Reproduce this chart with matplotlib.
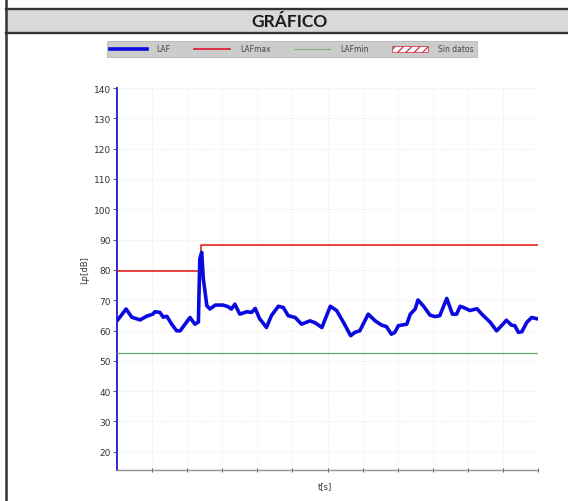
import matplotlib
matplotlib.use("Agg")
import matplotlib.pyplot as plt
from matplotlib.lines import Line2D
from matplotlib.patches import Patch, Rectangle

# ---- data -------------------------------------------------------------
t_laf = [0.0, 1.3, 2.1, 3.3, 4.2, 5.1, 5.4, 6.1, 6.6, 7.1, 7.8, 8.5, 9.0,
         9.7, 10.4, 11.1, 11.6, 11.8, 12.07, 12.3, 12.5, 12.8, 13.25, 14.0,
         15.1, 15.8, 16.3, 16.8, 17.5, 18.5, 19.2, 19.7, 20.3, 21.3, 22.0,
         23.0, 23.7, 24.4, 25.4, 26.3, 27.5, 28.2, 29.2, 30.4, 31.3, 32.3,
         33.3, 33.9, 34.6, 35.8, 36.8, 37.7, 38.4, 39.1, 39.6, 40.1, 41.3,
         41.8, 42.5, 42.9, 43.7, 44.6, 45.3, 46.0, 47.0, 47.8, 48.4, 48.9,
         49.6, 50.3, 51.3, 52.0, 53.2, 54.1, 54.8, 55.5, 56.2, 56.7, 57.2,
         57.7, 58.4, 59.1, 60.0]
laf = [63.2, 67.1, 64.4, 63.5, 64.7, 65.4, 66.2, 66.0, 64.4, 64.7, 62.1,
       59.9, 59.9, 62.1, 64.3, 62.1, 62.8, 83.6, 85.8, 77.0, 73.7, 68.2,
       67.1, 68.4, 68.4, 67.9, 67.1, 68.7, 65.4, 66.2, 66.0, 67.3, 64.0,
       61.0, 64.9, 68.0, 67.6, 64.9, 64.3, 62.1, 63.2, 62.6, 61.0, 68.0,
       66.6, 62.6, 58.3, 59.4, 59.9, 65.4, 63.2, 61.8, 61.3, 58.8, 59.4,
       61.6, 62.1, 65.4, 67.1, 70.1, 68.0, 65.1, 64.6, 64.9, 70.6, 65.4,
       65.4, 68.0, 67.4, 66.6, 67.2, 65.4, 62.7, 59.9, 61.6, 63.4, 61.8,
       61.6, 59.4, 59.6, 62.7, 64.3, 63.8]

t_max = [0.0, 12.0, 12.0, 60.0]
lafmax = [79.6, 79.6, 88.3, 88.3]

t_min = [0.0, 60.0]
lafmin = [52.7, 52.7]

y_ticks = list(range(20, 141, 10))
x_ticks = list(range(5, 61, 5))
legend_labels = ["LAF", "LAFmax", "LAFmin", "Sin datos"]

# ---- figure -----------------------------------------------------------
W, H = 568, 502
fig = plt.figure(figsize=(W / 100, H / 100), dpi=100)
fig.patch.set_facecolor("white")

# form frame: header band with title
fig.patches.append(Rectangle((6 / W, 1 - 34 / H), 1 - 6 / W, 24 / H,
                             transform=fig.transFigure, facecolor="#d9d9d9",
                             edgecolor="none", zorder=0))
for yy in (10, 34):
    fig.add_artist(Line2D([6 / W, 1], [1 - yy / H] * 2, transform=fig.transFigure,
                          color="#333333", lw=1.7))
fig.add_artist(Line2D([6 / W] * 2, [0, 1], transform=fig.transFigure,
                      color="#333333", lw=1.8))
fig.text(289 / W, 1 - 22 / H, "GRÁFICO", ha="center", va="center",
         fontsize=12.5, fontweight="bold", family="Lato", color="#1a1a1a")

# ---- axes -------------------------------------------------------------
ax = fig.add_axes([117 / W, 31 / H, (538 - 117) / W, (471 - 89) / H])
ax.plot(t_min, lafmin, color="#6aa86a", lw=0.9, zorder=3)
ax.plot(t_max, lafmax, color="#e01010", lw=1.1, zorder=3)
ax.plot(t_laf, laf, color="#0a0ae0", lw=2.6, solid_joinstyle="round",
        solid_capstyle="round", zorder=4)

ax.set_xlim(0, 60)
ax.set_ylim(14, 140)
ax.set_yticks(y_ticks)
ax.set_xticks(x_ticks)
ax.set_xticklabels([])
ax.tick_params(axis="y", labelsize=6.5, labelcolor="#333333", length=3,
               width=0.6, color="#444444", pad=1.5)
ax.tick_params(axis="x", length=3, width=0.6, direction="inout", color="#333333")
ax.grid(True, color="#e2e2e2", ls=(0, (1, 2)), lw=0.6)
for s in ("top", "right"):
    ax.spines[s].set_visible(False)
ax.spines["left"].set_color("#2a2ad0")
ax.spines["left"].set_linewidth(1.4)
ax.spines["bottom"].set_color("#909090")
ax.spines["bottom"].set_linewidth(1.0)

fig.text(85 / W, 1 - 270 / H, "Lp[dB]", rotation=90, ha="center", va="center",
         fontsize=6, color="#333333")
fig.text(325 / W, 1 - 487 / H, "t[s]", ha="center", va="center",
         fontsize=6, color="#333333")

# ---- legend -----------------------------------------------------------
handles = [
    Line2D([], [], color="#0a0ae0", lw=2.6),
    Line2D([], [], color="#e01030", lw=1.2),
    Line2D([], [], color="#8ab08a", lw=0.9),
    Patch(facecolor="white", edgecolor="#d04050", hatch="////", lw=0.6),
]
leg = fig.legend(handles, legend_labels, loc="center",
                 bbox_to_anchor=(292 / W, 1 - 50 / H), ncol=4, fontsize=5.5,
                 frameon=True, fancybox=False, facecolor="#cccccc",
                 edgecolor="#b8b8b8", framealpha=1, handlelength=4.8,
                 handleheight=0.9, handletextpad=1.3, columnspacing=3.0,
                 borderpad=0.4, borderaxespad=0)
for txt in leg.get_texts():
    txt.set_color("#444444")
leg.get_frame().set_linewidth(0.6)

fig.savefig("out.png", dpi=100, facecolor="white")
